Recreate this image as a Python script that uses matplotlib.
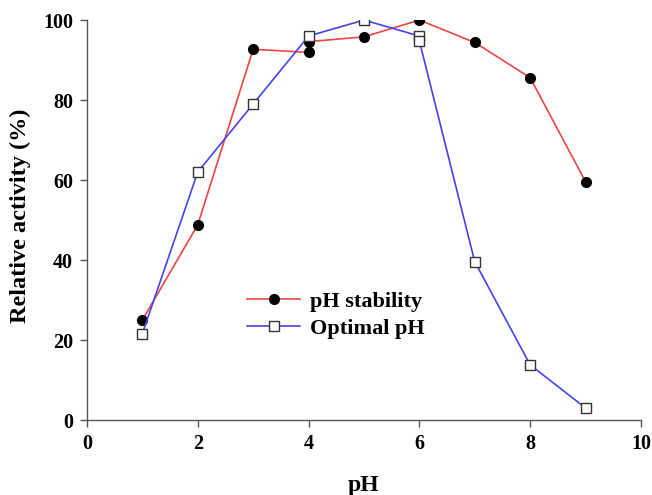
import matplotlib
matplotlib.use("Agg")
import matplotlib.pyplot as plt

# pH stability (residual activity after incubation)
stab_ph = [1, 2, 3, 4, 4, 5, 6, 7, 8, 9]
stab_act = [25, 48.8, 92.7, 91.9, 94.6, 95.8, 100, 94.4, 85.6, 59.6]

# Optimal pH (activity measured at each pH)
opt_ph = [1, 2, 3, 4, 5, 6, 6, 7, 8, 9]
opt_act = [21.6, 62, 79, 96, 100, 96, 94.8, 39.6, 13.8, 3]

x_ticks = [0, 2, 4, 6, 8, 10]
y_ticks = [0, 20, 40, 60, 80, 100]

plt.rcParams["font.family"] = ["Liberation Serif", "DejaVu Serif"]
plt.rcParams["font.weight"] = "bold"

fig = plt.figure(figsize=(6.52, 4.95), dpi=100)
ax = fig.add_axes([0.1334, 0.1515, 0.8496, 0.808])

ax.plot(stab_ph, stab_act, color="#ee4444", lw=1.2, marker="o", ms=7,
        mfc="black", mec="black", label="pH stability", zorder=3)
ax.plot(opt_ph, opt_act, color="#4444ee", lw=1.2, marker="s", ms=6.8,
        mfc="white", mec="#333333", mew=1.0, label="Optimal pH", zorder=4)

ax.set_xlim(0, 10)
ax.set_ylim(0, 100)
ax.set_xticks(x_ticks)
ax.set_yticks(y_ticks)
ax.tick_params(direction="out", length=5, width=1, color="#555555",
               labelsize=14.5, pad=5)
for lab in ax.get_xticklabels() + ax.get_yticklabels():
    lab.set_fontweight("bold")

for s in ["top", "right"]:
    ax.spines[s].set_visible(False)
for s in ["left", "bottom"]:
    ax.spines[s].set_color("#555555")
    ax.spines[s].set_linewidth(1)

ax.set_xlabel("pH", fontsize=17, fontweight="bold", va="center")
ax.set_ylabel("Relative activity (%)", fontsize=17.5, fontweight="bold", va="center")
ax.xaxis.set_label_coords(0.5, -0.163)
ax.yaxis.set_label_coords(-0.121, 0.51)

leg = ax.legend(loc="upper left", bbox_to_anchor=(0.289, 0.322), frameon=False,
                fontsize=16, handlelength=2.4, handletextpad=0.45,
                labelspacing=0.3, borderpad=0, borderaxespad=0)
for t in leg.get_texts():
    t.set_fontweight("bold")

fig.savefig("out.png", dpi=100)
